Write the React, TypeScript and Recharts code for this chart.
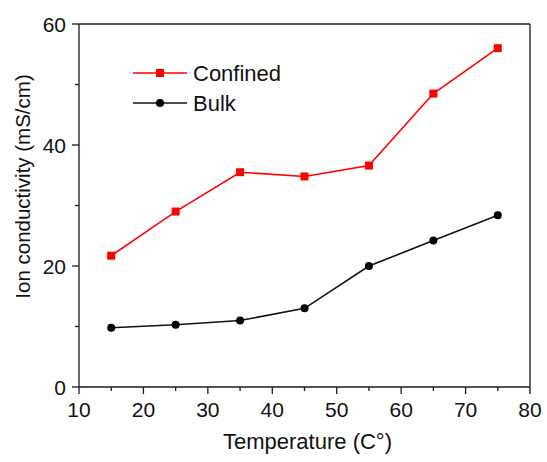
import React from "react";
import { LineChart, Line, XAxis, YAxis, Legend, ReferenceLine, Label } from "recharts";

const temperatures = [15, 25, 35, 45, 55, 65, 75];
const confined = [21.7, 29.0, 35.5, 34.8, 36.6, 48.5, 56.0];
const bulk = [9.8, 10.3, 11.0, 13.0, 20.0, 24.2, 28.4];
const xTicks = [10, 15, 20, 25, 30, 35, 40, 45, 50, 55, 60, 65, 70, 75, 80];
const yTicks = [0, 10, 20, 30, 40, 50, 60];

const data = temperatures.map((t, i) => ({ t, confined: confined[i], bulk: bulk[i] }));

const FONT = "'Liberation Sans', Arial, sans-serif";
const AX = "#1a1a1a";
const TXT = "#111";

const XTick = (props: any) => {
  const { x, y, payload } = props;
  const major = payload.value % 10 === 0;
  return (
    <g>
      <line x1={x} x2={x} y1={y} y2={y + (major ? 7 : 4)} stroke={AX} strokeWidth={1.3} />
      {major && (
        <text x={x} y={y + 30} textAnchor="middle" fontSize={21} fontFamily={FONT} fill={TXT}>
          {payload.value}
        </text>
      )}
    </g>
  );
};

const YTick = (props: any) => {
  const { x, y, payload } = props;
  const major = payload.value % 20 === 0;
  return (
    <g>
      <line x1={x - (major ? 7 : 4)} x2={x} y1={y} y2={y} stroke={AX} strokeWidth={1.3} />
      {major && (
        <text x={x - 13} y={y + 7.5} textAnchor="end" fontSize={21} fontFamily={FONT} fill={TXT}>
          {payload.value}
        </text>
      )}
    </g>
  );
};

const XTitle = (props: any) => {
  const vb = props.viewBox;
  return (
    <text x={vb.x + vb.width / 2 + 3} y={vb.y + 62} textAnchor="middle" fontSize={22} fontFamily={FONT} fill={TXT}>
      Temperature (C°)
    </text>
  );
};

const YTitle = (props: any) => {
  const vb = props.viewBox;
  const cx = vb.x + 30;
  const cy = vb.y + vb.height / 2 - 19;
  return (
    <text x={cx} y={cy} transform={`rotate(-90 ${cx} ${cy})`} textAnchor="middle" fontSize={20.5} fontFamily={FONT} fill={TXT}>
      Ion conductivity (mS/cm)
    </text>
  );
};

const SquareDot = (props: any) => {
  const { cx, cy, index } = props;
  return <rect key={`s${index}`} x={cx - 4} y={cy - 4} width={8} height={8} fill="#ff0000" />;
};
const CircleDot = (props: any) => {
  const { cx, cy, index } = props;
  return <circle key={`c${index}`} cx={cx} cy={cy} r={4} fill="#000" />;
};

const LegendContent = () => (
  <svg width={220} height={64} style={{ display: "block", overflow: "visible" }}>
    <line x1={0} x2={54} y1={10} y2={10} stroke="#ff0000" strokeWidth={1.5} />
    <rect x={23} y={6} width={8} height={8} fill="#ff0000" />
    <text x={60} y={18} fontSize={22} fontFamily={FONT} fill={TXT}>Confined</text>
    <line x1={0} x2={54} y1={40} y2={40} stroke="#111" strokeWidth={1.5} />
    <circle cx={27} cy={40} r={4} fill="#000" />
    <text x={60} y={48} fontSize={22} fontFamily={FONT} fill={TXT}>Bulk</text>
  </svg>
);

export default function App() {
  return (
    <div style={{ position: "absolute", left: 0, top: 0, width: 547, height: 462, background: "#fff" }}>
      <LineChart width={547} height={462} data={data} margin={{ top: 24, right: 17, bottom: 0, left: 0 }}>
        <XAxis
          dataKey="t"
          type="number"
          domain={[10, 80]}
          ticks={xTicks}
          interval={0}
          tickSize={0}
          tickMargin={0}
          tickLine={false}
          tick={<XTick />}
          height={75}
          axisLine={{ stroke: AX, strokeWidth: 1.3 }}
        >
          <Label content={<XTitle />} />
        </XAxis>
        <YAxis
          type="number"
          domain={[0, 60]}
          ticks={yTicks}
          interval={0}
          tickSize={0}
          tickMargin={0}
          tickLine={false}
          tick={<YTick />}
          width={79}
          axisLine={{ stroke: AX, strokeWidth: 1.3 }}
        >
          <Label content={<YTitle />} />
        </YAxis>
        <ReferenceLine y={60} stroke={AX} strokeWidth={1.3} />
        <ReferenceLine x={80} stroke={AX} strokeWidth={1.3} />
        <Legend
          content={<LegendContent />}
          layout="vertical"
          verticalAlign="middle"
          align="center"
          wrapperStyle={{ position: "absolute", left: 133, top: 63, width: 220, height: 64, overflow: "visible" }}
        />
        <Line dataKey="confined" stroke="#ff0000" strokeWidth={1.6} dot={<SquareDot />} isAnimationActive={false} legendType="none" />
        <Line dataKey="bulk" stroke="#111" strokeWidth={1.6} dot={<CircleDot />} isAnimationActive={false} legendType="none" />
      </LineChart>
    </div>
  );
}
